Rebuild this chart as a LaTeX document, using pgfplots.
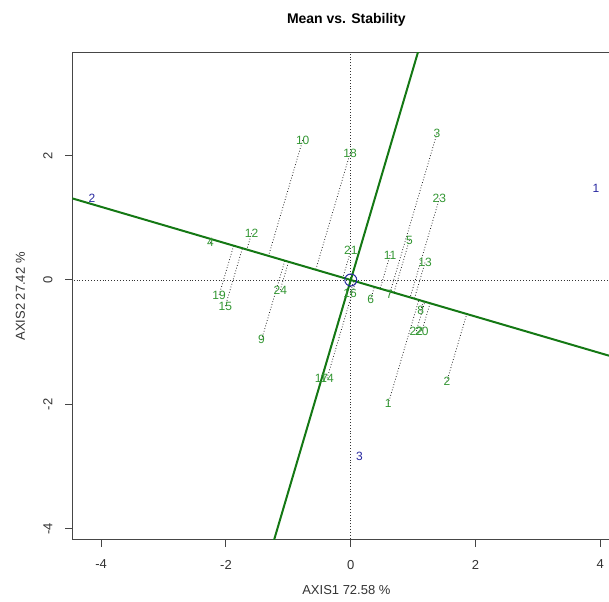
\documentclass[border=0pt]{standalone}
\usepackage{fontspec}
\setmainfont{Liberation Sans}
\usepackage{pgfplots}
\usepackage{pgfplotstable}
\pgfplotsset{compat=1.18}
\definecolor{lgreen}{RGB}{50,150,50}
\definecolor{dgreen}{RGB}{20,120,20}
\definecolor{envblue}{RGB}{40,40,160}
\definecolor{framec}{RGB}{70,70,70}

\pgfplotstableread{
lab x y
1 0.60 -1.99
2 1.54 -1.63
3 1.38 2.35
4 -2.25 0.60
5 0.94 0.64
6 0.32 -0.31
7 0.62 -0.23
8 1.12 -0.49
9 -1.43 -0.96
10 -0.77 2.25
11 0.63 0.40
12 -1.59 0.75
13 1.19 0.28
14 -0.38 -1.58
15 -2.01 -0.42
16 -0.01 -0.21
17 -0.47 -1.58
18 -0.01 2.04
19 -2.11 -0.24
20 1.14 -0.82
21 0.00 0.47
22 1.05 -0.82
23 1.42 1.31
24 -1.13 -0.16
}\genotypes

\pgfplotstableread{
lab x y
1 3.93 1.48
2 -4.15 1.32
3 0.14 -2.83
}\environments

\begin{document}
\begin{tikzpicture}
\begin{axis}[
  x=31.2pt, y=31.1pt,
  xmin=-4.46, xmax=4.32, ymin=-4.18, ymax=3.65,
  axis line style={draw=framec, line width=0.5pt},
  xtick={-4,-2,0,2,4}, ytick={-4,-2,0,2},
  xtick pos=bottom, ytick pos=left,
  tick align=outside, major tick length=3.5pt,
  tick style={draw=framec, line width=0.5pt},
  /pgf/number format/assume math mode=true,
  tick label style={font=\fontsize{6.5}{7}\selectfont, text=black!80},
  xticklabel style={anchor=north},
  yticklabel style={rotate=90, anchor=south},
  xticklabel shift=3pt, yticklabel shift=3pt,
  title={Mean vs. Stability},
  title style={at={(axis description cs:0.5,1.043)}, anchor=center, font=\fontsize{7}{8}\selectfont\bfseries},
  xlabel={AXIS1 72.58 \%},
  xlabel style={at={(axis description cs:0.5,-0.103)}, anchor=center, font=\fontsize{6.5}{7}\selectfont, text=black!80},
  ylabel={AXIS2 27.42 \%},
  ylabel style={at={(axis description cs:-0.095,0.5)}, anchor=center, font=\fontsize{6.5}{7}\selectfont, text=black!80},
  clip=true,
]
% zero reference lines
\addplot[black!80, densely dotted, line width=0.45pt] coordinates {(-5,0) (5,0)};
\addplot[black!80, densely dotted, line width=0.45pt] coordinates {(0,-5) (0,5)};
% projections onto the average-environment axis
\pgfplotsset{proj/.style={black!85, densely dotted, line width=0.4pt, forget plot}}
\addplot[proj] coordinates {(0.60,-1.99) (1.091,-0.321)};
\addplot[proj] coordinates {(1.54,-1.63) (1.859,-0.547)};
\addplot[proj] coordinates {(1.38,2.35) (0.634,-0.186)};
\addplot[proj] coordinates {(-2.25,0.60) (-2.233,0.657)};
\addplot[proj] coordinates {(0.94,0.64) (0.692,-0.203)};
\addplot[proj] coordinates {(0.32,-0.31) (0.378,-0.111)};
\addplot[proj] coordinates {(0.62,-0.23) (0.633,-0.186)};
\addplot[proj] coordinates {(1.12,-0.49) (1.164,-0.342)};
\addplot[proj] coordinates {(-1.43,-0.96) (-1.056,0.311)};
\addplot[proj] coordinates {(-0.77,2.25) (-1.318,0.388)};
\addplot[proj] coordinates {(0.63,0.40) (0.471,-0.139)};
\addplot[proj] coordinates {(-1.59,0.75) (-1.666,0.490)};
\addplot[proj] coordinates {(1.19,0.28) (1.020,-0.300)};
\addplot[proj] coordinates {(-0.38,-1.58) (0.078,-0.023)};
\addplot[proj] coordinates {(-2.01,-0.42) (-1.737,0.511)};
\addplot[proj] coordinates {(-0.01,-0.21) (0.048,-0.014)};
\addplot[proj] coordinates {(-0.47,-1.58) (-0.005,0.001)};
\addplot[proj] coordinates {(-0.01,2.04) (-0.561,0.165)};
\addplot[proj] coordinates {(-2.11,-0.24) (-1.877,0.552)};
\addplot[proj] coordinates {(1.14,-0.82) (1.271,-0.374)};
\addplot[proj] coordinates {(0.00,0.47) (-0.127,0.037)};
\addplot[proj] coordinates {(1.05,-0.82) (1.188,-0.349)};
\addplot[proj] coordinates {(1.42,1.31) (0.952,-0.280)};
\addplot[proj] coordinates {(-1.13,-0.16) (-0.997,0.293)};
% AEC abscissa and ordinate
\addplot[dgreen, line width=1pt] coordinates {(-5,1.47) (5,-1.47)};
\addplot[dgreen, line width=1pt] coordinates {(-1.3235,-4.5) (1.3235,4.5)};
% genotype labels
\addplot[draw=none, nodes near coords, point meta=explicit symbolic,
  nodes near coords style={anchor=center, text=lgreen, font=\fontsize{6}{7}\selectfont, inner sep=0pt}]
  table[x=x, y=y, meta=lab] {\genotypes};
% environment labels
\addplot[draw=none, nodes near coords, point meta=explicit symbolic,
  nodes near coords style={anchor=center, text=envblue, font=\fontsize{6}{7}\selectfont, inner sep=0pt}]
  table[x=x, y=y, meta=lab] {\environments};
% average environment marker
\addplot[only marks, mark=o, mark size=3pt, envblue, mark options={line width=0.5pt}] coordinates {(0,0)};
\coordinate (bbl) at (axis cs:-5.622,-5.177);
\coordinate (btr) at (axis cs:4.139,4.502);
\end{axis}
\pgfresetboundingbox
\useasboundingbox (bbl) rectangle (btr);
\end{tikzpicture}
\end{document}
